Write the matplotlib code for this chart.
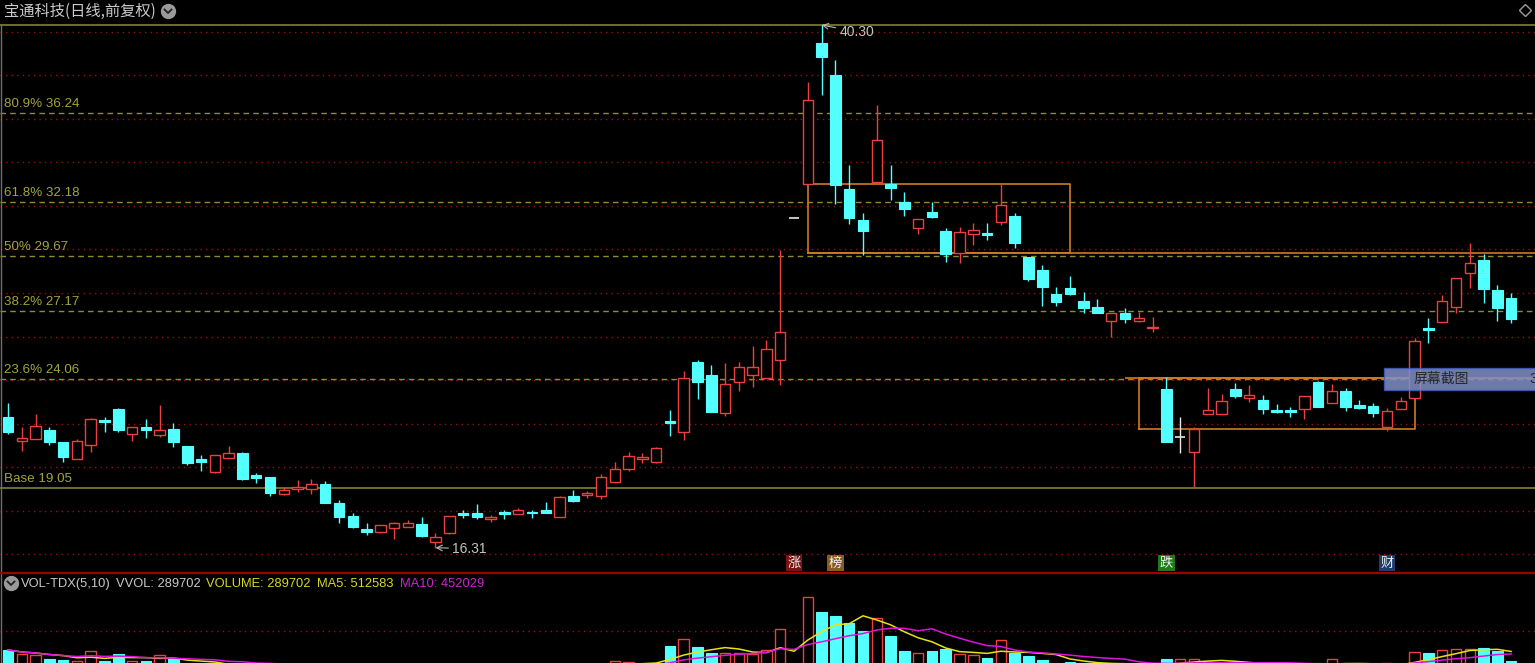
import matplotlib
matplotlib.use('Agg')
import matplotlib.pyplot as plt
from matplotlib.patches import Rectangle
import numpy as np
import pandas as pd

# ---------------- data ----------------
open_ = [22.31, 21.21, 21.30, 21.71, 21.16, 20.38, 21.02, 22.17, 22.68, 21.53,
         21.85, 21.48, 21.76, 20.98, 20.38, 19.78, 20.43, 20.66, 19.65, 19.55,
         18.77, 19.00, 19.00, 19.23, 18.36, 17.76, 17.17, 17.03, 17.21, 17.26,
         17.40, 16.57, 16.98, 17.90, 17.90, 17.65, 17.95, 17.86, 17.95, 18.04,
         17.72, 18.68, 18.75, 18.68, 19.33, 19.92, 20.38, 20.24, 22.12, 21.62,
         24.83, 24.24, 22.49, 23.91, 24.24, 24.10, 24.92, 31.45, 33.00, 39.47,
         38.00, 32.77, 31.35, 33.09, 33.00, 32.17, 30.98, 31.72, 30.84, 29.83,
         30.71, 30.73, 31.26, 31.53, 29.65, 29.05, 27.95, 28.23, 27.63, 27.36,
         26.71, 27.08, 26.71, 26.37, 23.59, 21.39, 20.70, 22.45, 22.45, 23.59,
         23.18, 23.09, 22.63, 22.63, 22.68, 23.91, 22.95, 23.50, 22.86, 22.81,
         21.85, 22.68, 23.18, 26.39, 26.67, 27.36, 28.92, 29.51, 28.14, 27.77]
high = [22.95, 21.85, 22.45, 21.85, 21.18, 21.30, 22.24, 22.31, 22.70, 21.87,
        22.22, 22.86, 22.03, 21.00, 20.56, 20.58, 20.98, 20.68, 19.74, 19.57,
        19.10, 19.42, 19.46, 19.37, 18.50, 17.90, 17.44, 17.37, 17.49, 17.58,
        17.72, 16.98, 17.78, 18.04, 18.32, 17.81, 18.04, 18.13, 18.04, 18.41,
        18.66, 18.96, 18.91, 19.69, 20.24, 20.70, 20.66, 20.91, 22.63, 24.42,
        24.92, 24.69, 24.79, 24.83, 25.57, 25.84, 29.97, 31.45, 37.68, 40.30,
        38.69, 33.87, 31.67, 36.63, 33.87, 32.63, 31.41, 32.17, 30.98, 31.03,
        31.21, 31.21, 33.00, 31.67, 29.67, 29.28, 28.27, 28.78, 28.04, 27.72,
        27.10, 27.31, 27.13, 26.90, 24.14, 22.31, 21.85, 23.64, 23.36, 23.87,
        23.78, 23.32, 22.90, 22.77, 23.29, 23.96, 23.82, 23.64, 23.09, 22.95,
        22.72, 23.23, 25.93, 26.85, 27.91, 28.71, 30.29, 29.79, 28.37, 28.00]
low = [21.53, 20.75, 21.28, 21.02, 20.24, 20.36, 20.70, 21.62, 21.62, 21.21,
       21.34, 21.39, 20.93, 20.11, 19.83, 19.74, 20.41, 19.42, 19.28, 18.68,
       18.75, 18.87, 18.77, 18.34, 17.44, 17.21, 16.89, 16.98, 16.71, 17.24,
       16.80, 16.31, 16.94, 17.67, 17.63, 17.49, 17.63, 17.84, 17.67, 17.88,
       17.70, 18.43, 18.59, 18.55, 19.31, 19.83, 20.20, 20.22, 21.44, 21.25,
       23.13, 22.52, 22.35, 23.50, 23.68, 24.08, 23.78, 31.45, 32.98, 37.08,
       32.08, 31.16, 29.74, 33.07, 32.27, 31.53, 30.71, 31.44, 29.42, 29.37,
       30.20, 30.43, 31.12, 30.06, 28.55, 27.40, 27.40, 27.93, 27.08, 27.06,
       25.98, 26.62, 26.69, 26.21, 21.14, 20.66, 19.10, 22.43, 22.43, 23.18,
       22.99, 22.45, 22.49, 22.31, 22.22, 22.75, 22.93, 22.58, 22.68, 22.31,
       21.67, 22.66, 23.16, 25.70, 26.65, 27.08, 28.23, 27.54, 26.71, 26.62]
close = [21.62, 21.34, 21.90, 21.16, 20.47, 21.21, 22.22, 22.08, 21.71, 21.85,
         21.71, 21.71, 21.16, 20.20, 20.24, 20.56, 20.66, 19.46, 19.51, 18.82,
         18.96, 19.10, 19.23, 18.36, 17.72, 17.26, 17.03, 17.35, 17.44, 17.44,
         16.85, 16.80, 17.76, 17.81, 17.72, 17.70, 17.86, 18.04, 17.90, 17.90,
         18.64, 18.45, 18.80, 19.55, 19.92, 20.52, 20.47, 20.89, 22.03, 24.10,
         23.91, 22.54, 23.82, 24.60, 24.60, 25.43, 26.21, 31.45, 36.86, 38.83,
         32.95, 31.44, 30.84, 35.02, 32.82, 31.85, 31.39, 31.49, 29.79, 30.80,
         30.89, 30.68, 32.04, 30.29, 28.64, 28.27, 27.59, 27.95, 27.31, 27.08,
         27.08, 26.81, 26.85, 26.42, 21.16, 21.39, 21.76, 22.63, 23.04, 23.27,
         23.32, 22.68, 22.54, 22.54, 23.27, 22.77, 23.50, 22.77, 22.72, 22.49,
         22.58, 23.04, 25.80, 26.30, 27.63, 28.69, 29.38, 28.18, 27.31, 26.81]
volume = [548000, 452000, 429000, 333000, 310000, 286000, 524000, 286000, 452000, 286000,
          286000, 429000, 333000, 200000, 170000, 180000, 150000, 200000, 140000, 190000,
          150000, 130000, 140000, 170000, 190000, 160000, 130000, 120000, 140000, 110000,
          150000, 160000, 180000, 120000, 140000, 100000, 110000, 100000, 110000, 120000,
          190000, 150000, 140000, 220000, 286000, 262000, 200000, 220000, 643000, 810000,
          619000, 476000, 476000, 476000, 452000, 548000, 1055000, 60000, 1810000, 1452000,
          1357000, 1190000, 1000000, 1310000, 881000, 524000, 476000, 524000, 571000, 452000,
          429000, 357000, 786000, 476000, 405000, 310000, 220000, 262000, 230000, 210000,
          220000, 180000, 150000, 160000, 333000, 333000, 333000, 260000, 240000, 230000,
          200000, 210000, 150000, 140000, 200000, 230000, 333000, 220000, 150000, 170000,
          230000, 204375, 510000, 465000, 548000, 575000, 580000, 600000, 518213, 289702]

fib_base = 19.05
fib_top = 40.30
fib_ratios = [0.236, 0.382, 0.5, 0.618, 0.809]
fib_labels = ["23.6% 24.06", "38.2% 27.17", "50% 29.67", "61.8% 32.18", "80.9% 36.24"]
base_label = "Base 19.05"
price_grid = list(range(16, 41, 2))
vol_grid = [1000000]
title = "宝通科技(日线,前复权)"
badges = [(57, "涨", "#7a1414"), (60, "榜", "#8a5a1e"), (84, "跌", "#1d7a1d"), (100, "财", "#1e3c6e")]
# consolidation boxes (left idx, right idx, low price, high price)
box1 = (58, 77, 29.83, 33.00)
box2 = (82, 102, 21.76, 24.10)
box2_top_start = 81
high_idx, high_val = 59, 40.30
low_idx, low_val = 31, 16.31

# ---------------- figure ----------------
W, H = 1535, 663
fig = plt.figure(figsize=(W / 100, H / 100), dpi=100, facecolor='black')
LAT = ['Liberation Sans', 'DejaVu Sans']
CJK = ['Noto Sans CJK SC', 'DejaVu Sans']

def fy(y):
    return 1 - y / H

n = len(close)
x = np.arange(n)
XL = (-0.58, 110.73)

ax = fig.add_axes([0, fy(573), 1, 573 / H])
ax.set_facecolor('black')
ax.set_xlim(*XL)
ax.set_ylim(15.149, 41.446)
ax.axis('off')

RED = '#ec4040'
CYAN = '#54ffff'
WHITE = '#e6e6e6'
OLIVE = '#8e8e30'
ORANGE = '#d07a22'
GRID = '#9a1010'

# grid
ax.hlines(price_grid, XL[0], XL[1], colors=GRID, linestyles=(0, (1, 3)), lw=1.0, zorder=1)
# fib lines
rng = fib_top - fib_base
for r, lab in zip(fib_ratios, fib_labels):
    lv = fib_base + r * rng
    ax.hlines(lv, XL[0], XL[1], colors=OLIVE, linestyles=(0, (4, 3)), lw=1.0, zorder=2)
    ax.annotate(lab, xy=(0, lv), xycoords=('axes fraction', 'data'), xytext=(4, 3),
                textcoords='offset pixels', va='bottom', ha='left', color='#a4a43a',
                fontsize=9.6, family=LAT)
ax.hlines([fib_base, fib_top], XL[0], XL[1], colors=OLIVE, lw=1.1, zorder=2)
ax.annotate(base_label, xy=(0, fib_base), xycoords=('axes fraction', 'data'), xytext=(4, 3),
            textcoords='offset pixels', va='bottom', ha='left', color='#a4a43a',
            fontsize=9.6, family=LAT)

# boxes
for (l, r, lo, hi) in [box1, box2]:
    ax.plot([l, r, r, l, l], [lo, lo, hi, hi, lo], color=ORANGE, lw=1.2, zorder=3)
ax.hlines(box1[2], box1[0], XL[1], colors=ORANGE, lw=1.2, zorder=3)
ax.hlines(box2[3], box2_top_start, XL[1], colors=ORANGE, lw=1.2, zorder=3)

# candles
bw = 0.76
for i in range(n):
    o, h, l, c = open_[i], high[i], low[i], close[i]
    lo_b, hi_b = min(o, c), max(o, c)
    if c > o:
        col = RED
    elif c < o:
        col = CYAN
    else:
        col = WHITE
    ax.vlines(i, l, lo_b, colors=col, lw=1.0, zorder=4)
    ax.vlines(i, hi_b, h, colors=col, lw=1.0, zorder=4)
    if c == o:
        ax.hlines(o, i - bw / 2, i + bw / 2, colors=col, lw=1.2, zorder=5)
    elif c > o:
        ax.add_patch(Rectangle((i - bw / 2, lo_b), bw, hi_b - lo_b, facecolor='black',
                               edgecolor=col, lw=1.0, zorder=5))
    else:
        ax.add_patch(Rectangle((i - bw / 2, lo_b), bw, hi_b - lo_b, facecolor=col,
                               edgecolor=col, lw=0.8, zorder=5))

# high / low annotations
ax.annotate(f"{high_val:.2f}", xy=(high_idx, high_val), xytext=(18, -7), textcoords='offset pixels',
            va='center', ha='left', color='#c4c4c4', fontsize=10, family=LAT,
            arrowprops=dict(arrowstyle='->', color='#b8b8b8', lw=0.8, shrinkA=1, shrinkB=0))
ax.annotate(f"{low_val:.2f}", xy=(low_idx, low_val), xytext=(17, -1), textcoords='offset pixels',
            va='center', ha='left', color='#c4c4c4', fontsize=10, family=LAT,
            arrowprops=dict(arrowstyle='->', color='#b8b8b8', lw=0.8, shrinkA=1, shrinkB=0))

# badges
for idx, ch, bg in badges:
    ax.annotate(ch, xy=(idx, 0), xycoords=('data', 'axes fraction'), xytext=(0, 10),
                textcoords='offset pixels', ha='center', va='center', color='#f0f0f0',
                fontsize=9.5, family=CJK,
                bbox=dict(boxstyle='square,pad=0.12', fc=bg, ec='none'))

# ---------------- volume ----------------
vax = fig.add_axes([0, fy(673), 1, 100 / H])
vax.set_facecolor('black')
vax.set_xlim(*XL)
vax.set_ylim(0, 2381000)
vax.axis('off')
vax.hlines(vol_grid, XL[0], XL[1], colors=GRID, linestyles=(0, (1, 3)), lw=1.0, zorder=1)
for i in range(n):
    if close[i] >= open_[i]:
        vax.add_patch(Rectangle((i - bw / 2, 0), bw, volume[i], facecolor='black',
                                edgecolor=RED, lw=1.0, zorder=3))
    else:
        vax.add_patch(Rectangle((i - bw / 2, 0), bw, volume[i], facecolor=CYAN,
                                edgecolor=CYAN, lw=0.8, zorder=3))
vs = pd.Series(volume, dtype=float)
ma5 = vs.rolling(5, min_periods=1).mean()
ma10 = vs.rolling(10, min_periods=1).mean()
vax.plot(x, ma5, color='#e4e414', lw=1.1, zorder=4)
vax.plot(x, ma10, color='#dc14dc', lw=1.1, zorder=4)

# ---------------- overlay (pixel space decorations) ----------------
ov = fig.add_axes([0, 0, 1, 1])
ov.set_xlim(0, W)
ov.set_ylim(H, 0)
ov.axis('off')
ov.patch.set_alpha(0)

ov.plot([1, 1], [25, H], color='#707070', lw=1.0)
ov.plot([0, W], [573, 573], color='#a00000', lw=1.6)

ov.text(4, 11, title, color='#cacaca', fontsize=11, va='center', ha='left', family=CJK)
ov.plot(168, 11, marker='o', ms=10, color='#9a9a9a')
ov.plot([164.5, 168, 171.5], [9.5, 13, 9.5], color='#202020', lw=1.3)
ov.plot(1525, 10, marker='D', ms=6, mfc='none', mec='#9a9a9a', mew=1.0)

ov.plot(11, 583, marker='o', ms=10, color='#9a9a9a')
ov.plot([7.5, 11, 14.5], [581.5, 585, 581.5], color='#202020', lw=1.3)
vol_txt = [(21, "VOL-TDX(5,10)", '#c8c8c8'),
           (116, f"VVOL: {volume[-1]}", '#c8c8c8'),
           (206, f"VOLUME: {volume[-1]}", '#d8d820'),
           (317, f"MA5: {int(round(ma5.iloc[-1]))}", '#d8d820'),
           (400, f"MA10: {int(round(ma10.iloc[-1]))}", '#d020d0')]
for xx, t, c in vol_txt:
    ov.text(xx, 584, t, color=c, fontsize=9.3, va='center', ha='left', family=LAT)

# screenshot tooltip overlay
ov.add_patch(Rectangle((1384, 368), 160, 22, facecolor='#8190c8', edgecolor='#3c5cc0',
                       lw=1.0, alpha=0.85, zorder=10))
ov.text(1414, 379, "屏幕截图", color='#262626', fontsize=10, va='center', ha='left',
        family=CJK, zorder=11)
ov.text(1529, 379, "3", color='#262626', fontsize=10, va='center', ha='left',
        family=LAT, zorder=11)

fig.savefig('out.png', dpi=100, facecolor='black')
